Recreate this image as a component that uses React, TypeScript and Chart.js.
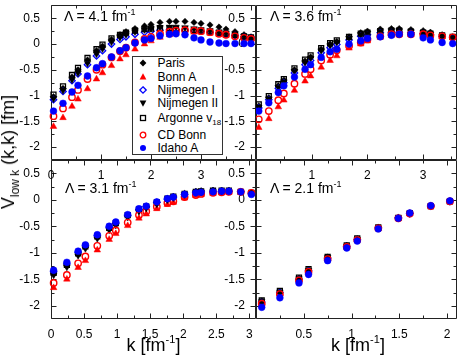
import React, { useEffect, useRef } from 'react';
import { Chart, registerables } from 'chart.js';

Chart.register(...registerables);

const FONT = "'Liberation Sans', Arial, Helvetica, sans-serif";

// ---------- data ----------
// Lambda = 4.1 fm^-1
const K_41 = [0.05, 0.24, 0.42, 0.54, 0.73, 0.91, 1.03, 1.21, 1.38, 1.5, 1.68, 1.87, 2.0, 2.18, 2.37, 2.5, 2.68, 2.86, 3.0, 3.18, 3.36, 3.5, 3.68, 3.86, 4.0];
const PARIS_41 = [-1.02, -0.86, -0.64, -0.5, -0.31, -0.13, -0.04, 0.09, 0.18, 0.24, 0.3, 0.35, 0.38, 0.42, 0.44, 0.44, 0.44, 0.42, 0.4, 0.37, 0.33, 0.29, 0.24, 0.18, 0.14];
const BONNA_41 = [-1.6, -1.43, -1.21, -1.07, -0.87, -0.68, -0.56, -0.42, -0.29, -0.21, -0.1, 0.0, 0.06, 0.13, 0.18, 0.21, 0.22, 0.23, 0.23, 0.21, 0.19, 0.17, 0.15, 0.12, 0.1];
const NIJ1_41 = [-1.08, -0.92, -0.71, -0.58, -0.4, -0.23, -0.13, 0.0, 0.09, 0.14, 0.19, 0.23, 0.25, 0.27, 0.28, 0.28, 0.27, 0.26, 0.25, 0.23, 0.21, 0.19, 0.17, 0.14, 0.12];
const NIJ2_41 = [-1.06, -0.9, -0.69, -0.56, -0.37, -0.19, -0.09, 0.04, 0.13, 0.18, 0.24, 0.28, 0.3, 0.32, 0.33, 0.33, 0.32, 0.3, 0.28, 0.26, 0.23, 0.21, 0.18, 0.15, 0.12];
const AV18_41 = [-0.98, -0.82, -0.6, -0.46, -0.27, -0.1, -0.01, 0.11, 0.18, 0.22, 0.26, 0.29, 0.3, 0.31, 0.31, 0.3, 0.29, 0.27, 0.26, 0.24, 0.22, 0.2, 0.18, 0.15, 0.13];
const CDB_41 = [-1.4, -1.25, -1.03, -0.89, -0.68, -0.5, -0.4, -0.26, -0.14, -0.07, 0.03, 0.1, 0.14, 0.2, 0.24, 0.26, 0.27, 0.26, 0.25, 0.23, 0.2, 0.18, 0.15, 0.12, 0.1];
const IDAHO_41 = [-1.3, -1.15, -0.93, -0.8, -0.62, -0.46, -0.38, -0.25, -0.13, -0.07, 0.02, 0.08, 0.11, 0.16, 0.19, 0.2, 0.18, 0.12, 0.08, 0.04, 0.02, 0.01, 0.01, 0.01, 0.01];

// Lambda = 3.6 fm^-1
const K_36 = [0.05, 0.23, 0.4, 0.5, 0.69, 0.88, 0.98, 1.17, 1.33, 1.45, 1.67, 1.88, 2.0, 2.23, 2.43, 2.57, 2.78, 3.0, 3.13, 3.34, 3.53];
const PARIS_36 = [-1.2, -1.04, -0.81, -0.7, -0.5, -0.33, -0.25, -0.1, 0.0, 0.05, 0.14, 0.22, 0.25, 0.29, 0.3, 0.3, 0.28, 0.26, 0.23, 0.18, 0.14];
const BONNA_36 = [-1.62, -1.45, -1.22, -1.09, -0.9, -0.72, -0.62, -0.45, -0.32, -0.23, -0.08, 0.0, 0.06, 0.13, 0.17, 0.18, 0.18, 0.18, 0.16, 0.14, 0.12];
const NIJ1_36 = [-1.24, -1.08, -0.86, -0.75, -0.56, -0.4, -0.32, -0.17, -0.07, -0.01, 0.08, 0.15, 0.18, 0.22, 0.23, 0.23, 0.22, 0.2, 0.18, 0.15, 0.12];
const NIJ2_36 = [-1.22, -1.06, -0.84, -0.73, -0.53, -0.36, -0.28, -0.13, -0.03, 0.03, 0.11, 0.18, 0.21, 0.24, 0.25, 0.25, 0.23, 0.21, 0.19, 0.16, 0.13];
const AV18_36 = [-1.17, -1.01, -0.78, -0.68, -0.47, -0.3, -0.22, -0.08, 0.02, 0.07, 0.14, 0.2, 0.22, 0.25, 0.26, 0.26, 0.24, 0.22, 0.2, 0.17, 0.14];
const CDB_36 = [-1.46, -1.3, -1.09, -0.96, -0.77, -0.58, -0.49, -0.32, -0.21, -0.12, -0.04, 0.03, 0.09, 0.15, 0.19, 0.19, 0.19, 0.19, 0.17, 0.15, 0.13];
const IDAHO_36 = [-1.3, -1.14, -0.94, -0.81, -0.64, -0.49, -0.4, -0.26, -0.15, -0.1, 0.0, 0.06, 0.11, 0.14, 0.17, 0.19, 0.19, 0.12, 0.08, 0.03, 0.01];

// Lambda = 3.1 fm^-1
const K_31 = [0.04, 0.24, 0.41, 0.52, 0.7, 0.88, 0.98, 1.16, 1.33, 1.44, 1.6, 1.76, 1.85, 2.02, 2.19, 2.27, 2.45, 2.58, 2.69, 2.87, 3.03];
const PARIS_31 = [-1.4, -1.25, -1.03, -0.9, -0.71, -0.55, -0.46, -0.31, -0.2, -0.14, -0.06, 0.02, 0.06, 0.12, 0.16, 0.17, 0.18, 0.18, 0.18, 0.16, 0.14];
const BONNA_31 = [-1.66, -1.5, -1.28, -1.15, -0.95, -0.75, -0.64, -0.49, -0.35, -0.27, -0.17, -0.09, -0.05, 0.03, 0.08, 0.1, 0.12, 0.13, 0.14, 0.14, 0.12];
const NIJ1_31 = [-1.36, -1.21, -0.99, -0.87, -0.68, -0.52, -0.44, -0.3, -0.19, -0.13, -0.05, 0.01, 0.05, 0.1, 0.14, 0.15, 0.16, 0.16, 0.16, 0.15, 0.12];
const NIJ2_31 = [-1.42, -1.27, -1.05, -0.92, -0.73, -0.57, -0.48, -0.33, -0.22, -0.16, -0.08, 0.0, 0.04, 0.1, 0.14, 0.15, 0.16, 0.16, 0.16, 0.15, 0.13];
const AV18_31 = [-1.38, -1.23, -1.01, -0.88, -0.69, -0.53, -0.44, -0.29, -0.18, -0.13, -0.05, 0.02, 0.06, 0.11, 0.15, 0.16, 0.17, 0.17, 0.17, 0.15, 0.13];
const CDB_31 = [-1.57, -1.42, -1.2, -1.07, -0.87, -0.68, -0.58, -0.43, -0.29, -0.22, -0.13, -0.06, -0.03, 0.05, 0.09, 0.11, 0.13, 0.14, 0.15, 0.15, 0.13];
const IDAHO_31 = [-1.33, -1.18, -0.97, -0.85, -0.66, -0.5, -0.42, -0.28, -0.17, -0.12, -0.04, 0.02, 0.05, 0.1, 0.13, 0.14, 0.15, 0.16, 0.16, 0.15, 0.1];

// Lambda = 2.1 fm^-1
const K_21 = [0.06, 0.25, 0.45, 0.55, 0.75, 0.95, 1.06, 1.28, 1.49, 1.61, 1.83, 2.03];
const PARIS_21 = [-1.91, -1.73, -1.48, -1.32, -1.08, -0.86, -0.74, -0.53, -0.34, -0.26, -0.12, -0.03];
const BONNA_21 = [-1.95, -1.77, -1.51, -1.35, -1.11, -0.89, -0.76, -0.54, -0.35, -0.26, -0.12, -0.03];
const NIJ1_21 = [-1.93, -1.75, -1.5, -1.34, -1.1, -0.88, -0.75, -0.53, -0.34, -0.26, -0.12, -0.03];
const NIJ2_21 = [-1.92, -1.74, -1.49, -1.33, -1.09, -0.87, -0.74, -0.53, -0.34, -0.26, -0.12, -0.03];
const AV18_21 = [-1.9, -1.72, -1.47, -1.31, -1.08, -0.86, -0.73, -0.52, -0.34, -0.25, -0.12, -0.03];
const CDB_21 = [-1.96, -1.78, -1.52, -1.36, -1.12, -0.89, -0.76, -0.54, -0.35, -0.26, -0.12, -0.03];
const IDAHO_21 = [-2.03, -1.85, -1.57, -1.41, -1.15, -0.91, -0.78, -0.55, -0.35, -0.25, -0.11, -0.02];

const SERIES_NAMES = ['Paris', 'Bonn A', 'Nijmegen I', 'Nijmegen II', 'Argonne v18', 'CD Bonn', 'Idaho A'];

// ticks
const Y_MAJOR = [-2, -1.5, -1, -0.5, 0, 0.5];
const Y_MINOR = [-1.75, -1.25, -0.75, -0.25, 0.25];
const X_MAJOR_WIDE = [0, 1, 2, 3, 4];
const X_MINOR_WIDE = [0.5, 1.5, 2.5, 3.5];
const X_MAJOR_FINE = [0, 0.5, 1, 1.5, 2, 2.5, 3];
const X_MINOR_FINE = [0.25, 0.75, 1.25, 1.75, 2.25, 2.75];

// ---------- styling ----------
const STYLES = [
  { pointStyle: 'rectRot', radius: 3.2, bg: '#000000', border: '#000000', bw: 0.5, rot: 0 },
  { pointStyle: 'triangle', radius: 3.8, bg: '#ff0000', border: '#ff0000', bw: 0.5, rot: 0 },
  { pointStyle: 'rectRot', radius: 3.2, bg: 'rgba(0,0,0,0)', border: '#0000ff', bw: 1.3, rot: 0 },
  { pointStyle: 'triangle', radius: 3.8, bg: '#000000', border: '#000000', bw: 0.5, rot: 180 },
  { pointStyle: 'rect', radius: 3.5, bg: 'rgba(0,0,0,0)', border: '#000000', bw: 1.3, rot: 0 },
  { pointStyle: 'circle', radius: 3.2, bg: 'rgba(0,0,0,0)', border: '#ff0000', bw: 1.4, rot: 0 },
  { pointStyle: 'circle', radius: 3.4, bg: '#0000ff', border: '#0000ff', bw: 0.5, rot: 0 },
];

type Panel = {
  id: string;
  lam: number;
  k: number[];
  series: number[][];
  xMajor: number[];
  xMinor: number[];
  xLabels: number[];
  area: { left: number; right: number; top: number; bottom: number };
  z: number;
};

const PANELS: Panel[] = [
  {
    id: 'tr', lam: 3.6, k: K_36,
    series: [PARIS_36, BONNA_36, NIJ1_36, NIJ2_36, AV18_36, CDB_36, IDAHO_36],
    xMajor: [0, 1, 2, 3], xMinor: X_MINOR_WIDE, xLabels: [1, 2, 3],
    area: { left: 256, right: 460, top: 1, bottom: 160 }, z: 1,
  },
  {
    id: 'br', lam: 2.1, k: K_21,
    series: [PARIS_21, BONNA_21, NIJ1_21, NIJ2_21, AV18_21, CDB_21, IDAHO_21],
    xMajor: [0, 0.5, 1, 1.5, 2], xMinor: [0.25, 0.75, 1.25, 1.75], xLabels: [0.5, 1, 1.5, 2],
    area: { left: 256, right: 460, top: 160, bottom: 319 }, z: 2,
  },
  {
    id: 'bl', lam: 3.1, k: K_31,
    series: [PARIS_31, BONNA_31, NIJ1_31, NIJ2_31, AV18_31, CDB_31, IDAHO_31],
    xMajor: X_MAJOR_FINE, xMinor: X_MINOR_FINE, xLabels: X_MAJOR_FINE,
    area: { left: 51, right: 256, top: 160, bottom: 319 }, z: 3,
  },
  {
    id: 'tl', lam: 4.1, k: K_41,
    series: [PARIS_41, BONNA_41, NIJ1_41, NIJ2_41, AV18_41, CDB_41, IDAHO_41],
    xMajor: X_MAJOR_WIDE, xMinor: X_MINOR_WIDE, xLabels: [0, 1, 2, 3],
    area: { left: 51, right: 256, top: 1, bottom: 160 }, z: 4,
  },
];

const W = 462;
const H = 358;
const Y_AXIS_W = 40;
const X_AXIS_H = 20;

function framePlugin(panel: Panel) {
  return {
    id: 'frame_' + panel.id,
    beforeDatasetsDraw(chart: any) {
      const ctx = chart.ctx;
      const { left, right, top, bottom } = chart.chartArea;
      const xs = chart.scales.x;
      const ys = chart.scales.y;
      const L = Math.round(left) + 0.5;
      const R = Math.round(right) - 0.5;
      const T = Math.round(top) + 0.5;
      const B = Math.round(bottom) - 0.5;
      ctx.save();
      ctx.strokeStyle = '#222';
      ctx.lineWidth = 1;
      ctx.beginPath();
      ctx.rect(L, T, R - L, B - T);
      ctx.stroke();
      const tick = (vals: number[], len: number) => {
        vals.forEach((v) => {
          const px = Math.round(xs.getPixelForValue(v)) + 0.5;
          ctx.moveTo(px, B); ctx.lineTo(px, B - len);
          ctx.moveTo(px, T); ctx.lineTo(px, T + len);
        });
      };
      const ytick = (vals: number[], len: number) => {
        vals.forEach((v) => {
          const py = Math.round(ys.getPixelForValue(v)) + 0.5;
          ctx.moveTo(L, py); ctx.lineTo(L + len, py);
          ctx.moveTo(R, py); ctx.lineTo(R - len, py);
        });
      };
      ctx.beginPath();
      tick(panel.xMajor, 5);
      tick(panel.xMinor, 3);
      ytick(Y_MAJOR, 5);
      ytick(Y_MINOR, 3);
      ctx.stroke();
      ctx.restore();
    },
  };
}

function PanelChart({ panel }: { panel: Panel }) {
  const ref = useRef<HTMLCanvasElement>(null);
  useEffect(() => {
    const canvas = ref.current;
    if (!canvas) return;
    const { area } = panel;
    const datasets = panel.series
      .map((vals, si) => {
        const st = STYLES[si];
        return {
          label: SERIES_NAMES[si],
          data: panel.k.map((x, i) => ({ x, y: vals[i] })),
          pointStyle: st.pointStyle,
          pointRadius: st.radius,
          pointRotation: st.rot,
          pointBackgroundColor: st.bg,
          pointBorderColor: st.border,
          pointBorderWidth: st.bw,
          showLine: false,
          clip: false as any,
        };
      })
      .reverse();
    const chart = new Chart(canvas, {
      type: 'scatter',
      data: { datasets: datasets as any },
      options: {
        responsive: false,
        animation: false,
        devicePixelRatio: 1,
        events: [],
        layout: {
          padding: {
            left: area.left - Y_AXIS_W,
            right: W - area.right,
            top: area.top,
            bottom: H - area.bottom - X_AXIS_H,
          },
        },
        plugins: { legend: { display: false }, tooltip: { enabled: false } },
        scales: {
          x: {
            type: 'linear',
            min: 0,
            max: panel.lam,
            position: 'bottom',
            grid: { display: false },
            border: { display: false },
            ticks: {
              color: '#000',
              font: { family: FONT, size: 12 },
              padding: 0,
              maxRotation: 0,
              autoSkip: false,
              callback: (v: any) => (panel.xLabels.includes(Number(v)) ? String(v) : ''),
            },
            afterBuildTicks: (s: any) => {
              s.ticks = panel.xMajor.map((v) => ({ value: v }));
            },
            afterFit: (s: any) => {
              s.height = X_AXIS_H;
              s.paddingLeft = 0; s.paddingRight = 0; s.paddingTop = 0; s.paddingBottom = 0;
            },
          },
          y: {
            type: 'linear',
            min: -2.25,
            max: 0.75,
            position: 'left',
            grid: { display: false },
            border: { display: false },
            ticks: {
              color: '#000',
              font: { family: FONT, size: 12 },
              padding: 3,
              autoSkip: false,
              callback: (v: any) => String(v),
            },
            afterBuildTicks: (s: any) => {
              s.ticks = Y_MAJOR.map((v) => ({ value: v }));
            },
            afterFit: (s: any) => {
              s.width = Y_AXIS_W;
              s.paddingLeft = 0; s.paddingRight = 0; s.paddingTop = 0; s.paddingBottom = 0;
            },
          },
        },
      } as any,
      plugins: [framePlugin(panel)],
    });
    return () => chart.destroy();
  }, [panel]);
  return (
    <canvas
      ref={ref}
      width={W}
      height={H}
      style={{ position: 'absolute', left: 0, top: 0, width: W, height: H, zIndex: panel.z }}
    />
  );
}

const LEGEND_ROWS = [63.3, 76.5, 89.7, 103, 118, 134.5, 147.7];

function LegendSymbol({ idx }: { idx: number }) {
  const s = 10;
  let el: any = null;
  switch (idx) {
    case 0:
      el = <polygon points="5,1.6 8.4,5 5,8.4 1.6,5" fill="#000" />;
      break;
    case 1:
      el = <polygon points="5,1.2 8.4,7.6 1.6,7.6" fill="#ff0000" />;
      break;
    case 2:
      el = <polygon points="5,1.8 8.2,5 5,8.2 1.8,5" fill="none" stroke="#0000ff" strokeWidth={1.3} />;
      break;
    case 3:
      el = <polygon points="1.6,2.4 8.4,2.4 5,8.8" fill="#000" />;
      break;
    case 4:
      el = <rect x={2.5} y={2.5} width={5} height={5} fill="none" stroke="#000" strokeWidth={1.3} />;
      break;
    case 5:
      el = <circle cx={5} cy={5} r={2.8} fill="none" stroke="#ff0000" strokeWidth={1.3} />;
      break;
    default:
      el = <circle cx={5} cy={5} r={3} fill="#0000ff" />;
  }
  return (
    <svg width={s} height={s} style={{ position: 'absolute', left: 138, top: -5 }}>
      {el}
    </svg>
  );
}

function Legend() {
  return (
    <div style={{ position: 'absolute', left: 0, top: 0, zIndex: 10 }}>
      <div
        style={{
          position: 'absolute', left: 132, top: 56, width: 91, height: 99,
          boxSizing: 'border-box', border: '1px solid #333', background: '#fff',
        }}
      />
      {SERIES_NAMES.map((name, i) => (
        <div key={name} style={{ position: 'absolute', left: 0, top: LEGEND_ROWS[i], width: 0, height: 0 }}>
          <LegendSymbol idx={i} />
          <div
            style={{
              position: 'absolute', left: 157.5, top: -6, fontFamily: FONT, fontSize: 12,
              lineHeight: '12px', whiteSpace: 'nowrap', color: '#000',
            }}
          >
            {i === 4 ? (
              <span>
                Argonne v<span style={{ fontSize: 8, position: 'relative', top: 3 }}>18</span>
              </span>
            ) : (
              name
            )}
          </div>
        </div>
      ))}
    </div>
  );
}

function LamLabel({ x, y, text }: { x: number; y: number; text: string }) {
  return (
    <div
      style={{
        position: 'absolute', left: x, top: y - 7, fontFamily: FONT, fontSize: 14,
        lineHeight: '14px', whiteSpace: 'nowrap', color: '#000', zIndex: 9,
      }}
    >
      {text} fm<span style={{ fontSize: 9, position: 'relative', top: -6 }}>-1</span>
    </div>
  );
}

function XTitle({ cx }: { cx: number }) {
  return (
    <div
      style={{
        position: 'absolute', left: cx, top: 346, transform: 'translate(-50%, -50%)',
        fontFamily: FONT, fontSize: 18, lineHeight: '18px', whiteSpace: 'nowrap', color: '#000', zIndex: 9,
      }}
    >
      k [fm<span style={{ fontSize: 11, position: 'relative', top: -8 }}>-1</span>]
    </div>
  );
}

export default function App() {
  return (
    <div style={{ position: 'absolute', left: 0, top: 0, width: W, height: H, background: '#fff', overflow: 'hidden' }}>
      {PANELS.map((p) => (
        <PanelChart key={p.id} panel={p} />
      ))}
      <Legend />
      <LamLabel x={64} y={16} text="Λ = 4.1" />
      <LamLabel x={270} y={16} text="Λ = 3.6" />
      <LamLabel x={65} y={188} text="Λ = 3.1" />
      <LamLabel x={270} y={188} text="Λ = 2.1" />
      <XTitle cx={153.5} />
      <XTitle cx={358} />
      <div
        style={{
          position: 'absolute', left: 9, top: 152, transform: 'translate(-50%, -50%) rotate(-90deg)',
          fontFamily: FONT, fontSize: 18, lineHeight: '18px', whiteSpace: 'nowrap', color: '#000', zIndex: 9,
        }}
      >
        V<span style={{ fontSize: 12, position: 'relative', top: 5 }}>low k</span> (k,k) [fm]
      </div>
    </div>
  );
}
